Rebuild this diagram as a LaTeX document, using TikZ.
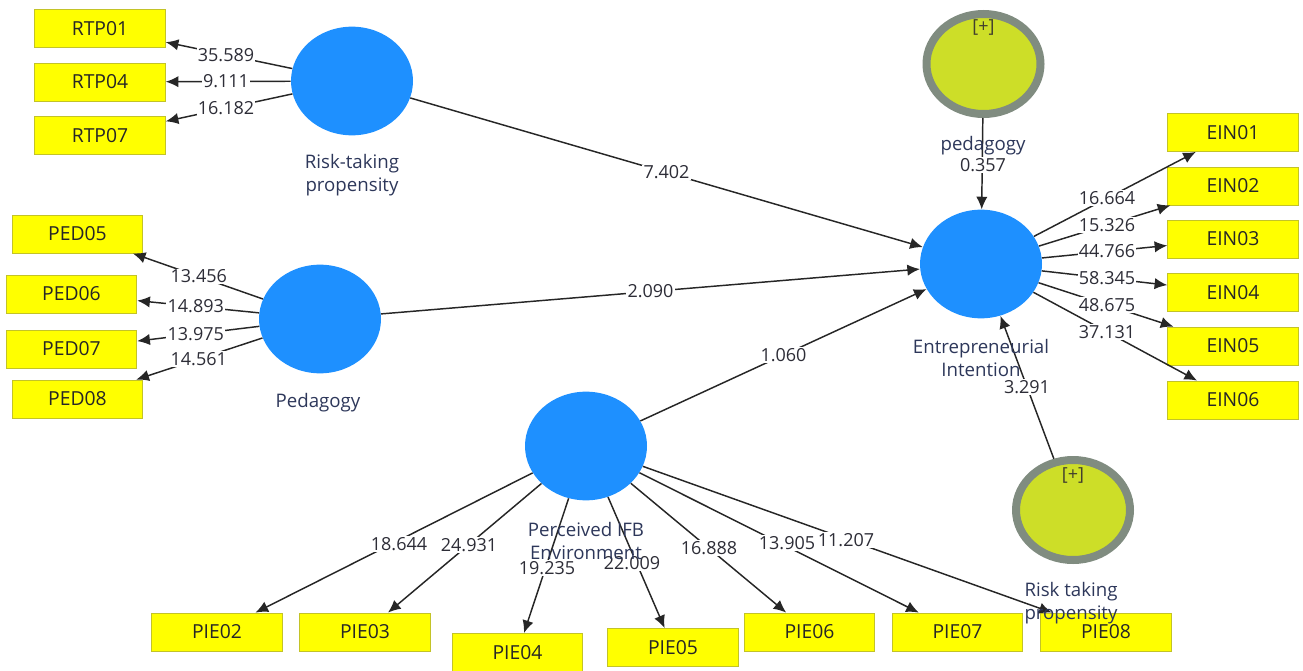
\documentclass[tikz,border=0pt]{standalone}
\usepackage{fontspec}
\setmainfont{Open Sans}
\usetikzlibrary{shapes.geometric,arrows.meta,calc}
\definecolor{lvblue}{RGB}{30,144,255}
\definecolor{boxyel}{RGB}{255,255,0}
\definecolor{boxedge}{RGB}{195,195,40}
\definecolor{modfill}{RGB}{205,222,40}
\definecolor{modring}{RGB}{128,140,128}
\definecolor{numtxt}{RGB}{45,45,55}
\definecolor{captxt}{RGB}{45,55,90}
\newcommand{\numfs}{\fontsize{13.5}{16}\selectfont}
\newcommand{\boxfs}{\fontsize{14.5}{17}\selectfont}
\newcommand{\capfs}{\fontsize{14}{17}\selectfont}
\begin{document}
\begin{tikzpicture}[x=0.75pt,y=-0.75pt,
  lv/.style={ellipse, fill=lvblue, draw=none, minimum width=91.5pt, minimum height=81.5pt, inner sep=0pt},
  ind/.style={rectangle, fill=boxyel, draw=boxedge, line width=0.6pt, minimum width=98pt, minimum height=28.5pt, inner sep=0pt, font=\boxfs, text=black!85},
  mod/.style={ellipse, fill=modfill, draw=modring, line width=6pt, minimum width=85.5pt, minimum height=75pt, inner sep=0pt},
  conn/.style={-{Latex[length=9.5pt,width=8.5pt]}, line width=1.1pt, draw=black!85},
  num/.style={fill=white, inner sep=1pt, font=\numfs, text=numtxt},
  captn/.style={font=\capfs, text=captxt, align=center, inner sep=0pt},
  plus/.style={font=\numfs, text=black!70!olive, inner sep=0pt}]
\useasboundingbox (0,0) rectangle (1303,671);

% latent variables
\node[lv] (RTP) at (352,81) {};
\node[lv] (PED) at (320,319) {};
\node[lv] (PIE) at (586,446) {};
\node[lv] (EI) at (981,264) {};
\node[mod] (MP) at (983.5,64) {};
\node[mod] (MR) at (1073,510) {};

% indicators
\node[ind] (RTP01) at (100,28.5) {RTP01};
\node[ind] (RTP04) at (100,82) {RTP04};
\node[ind] (RTP07) at (100,135.5) {RTP07};
\node[ind] (PED05) at (77.5,234) {PED05};
\node[ind] (PED06) at (71.5,294) {PED06};
\node[ind] (PED07) at (71.5,349) {PED07};
\node[ind] (PED08) at (77.5,399) {PED08};
\node[ind] (PIE02) at (217,632) {PIE02};
\node[ind] (PIE03) at (365,632) {PIE03};
\node[ind] (PIE04) at (517.5,652.5) {PIE04};
\node[ind] (PIE05) at (673,647.5) {PIE05};
\node[ind] (PIE06) at (809.5,632) {PIE06};
\node[ind] (PIE07) at (957.5,632) {PIE07};
\node[ind] (PIE08) at (1106,632) {PIE08};
\node[ind] (EIN01) at (1233,132.5) {EIN01};
\node[ind] (EIN02) at (1233,186) {EIN02};
\node[ind] (EIN03) at (1233,239) {EIN03};
\node[ind] (EIN04) at (1233,292.5) {EIN04};
\node[ind] (EIN05) at (1233,346) {EIN05};
\node[ind] (EIN06) at (1233,400) {EIN06};

% connectors
\foreach \t in {RTP01,RTP04,RTP07} \draw[conn] (RTP) -- (\t);
\foreach \t in {PED05,PED06,PED07,PED08} \draw[conn] (PED) -- (\t);
\foreach \t in {PIE02,PIE03,PIE04,PIE05,PIE06,PIE07,PIE08} \draw[conn] (PIE) -- (\t);
\foreach \t in {EIN01,EIN02,EIN03,EIN04,EIN05,EIN06} \draw[conn] (EI) -- (\t);
\draw[conn] (RTP) -- (EI);
\draw[conn] (PED) -- (EI);
\draw[conn] (PIE) -- (EI);
\draw[conn] (MP) -- (EI);
\draw[conn] (MR) -- (EI);

% coefficient labels
\node[num] at ($(RTP)!0.5!(RTP01)$) {35.589};
\node[num] at ($(RTP)!0.5!(RTP04)$) {9.111};
\node[num] at ($(RTP)!0.5!(RTP07)$) {16.182};
\node[num] at ($(PED)!0.5!(PED05)$) {13.456};
\node[num] at ($(PED)!0.5!(PED06)$) {14.893};
\node[num] at ($(PED)!0.5!(PED07)$) {13.975};
\node[num] at ($(PED)!0.5!(PED08)$) {14.561};
\node[num] at (399,544) {18.644};
\node[num] at (469,545) {24.931};
\node[num] at (547,568) {19.235};
\node[num] at (632,563) {22.009};
\node[num] at (709,548) {16.888};
\node[num] at (787,543) {13.905};
\node[num] at (846,540) {11.207};
\node[num] at ($(EI)!0.5!(EIN01)$) {16.664};
\node[num] at ($(EI)!0.5!(EIN02)$) {15.326};
\node[num] at ($(EI)!0.5!(EIN03)$) {44.766};
\node[num] at ($(EI)!0.5!(EIN04)$) {58.345};
\node[num] at ($(EI)!0.5!(EIN05)$) {48.675};
\node[num] at ($(EI)!0.5!(EIN06)$) {37.131};
\node[num] at ($(RTP)!0.5!(EI)$) {7.402};
\node[num] at ($(PED)!0.5!(EI)$) {2.090};
\node[num] at ($(PIE)!0.5!(EI)$) {1.060};
\node[num] at (983,165) {0.357};
\node[num] at ($(MR)!0.5!(EI)$) {3.291};

% construct captions
\node[captn] at (352,175) {Risk-taking\\propensity};
\node[captn] at (318,403) {Pedagogy};
\node[captn] at (586,541) {Perceived IFB\\Environment};
\node[captn] at (981,358) {Entrepreneurial\\Intention};
\node[captn] at (983,146) {pedagogy};
\node[captn] at (1071,603) {Risk taking\\propensity};
\node[plus] at (983.5,27) {[+]};
\node[plus] at (1073,475) {[+]};
\end{tikzpicture}
\end{document}
